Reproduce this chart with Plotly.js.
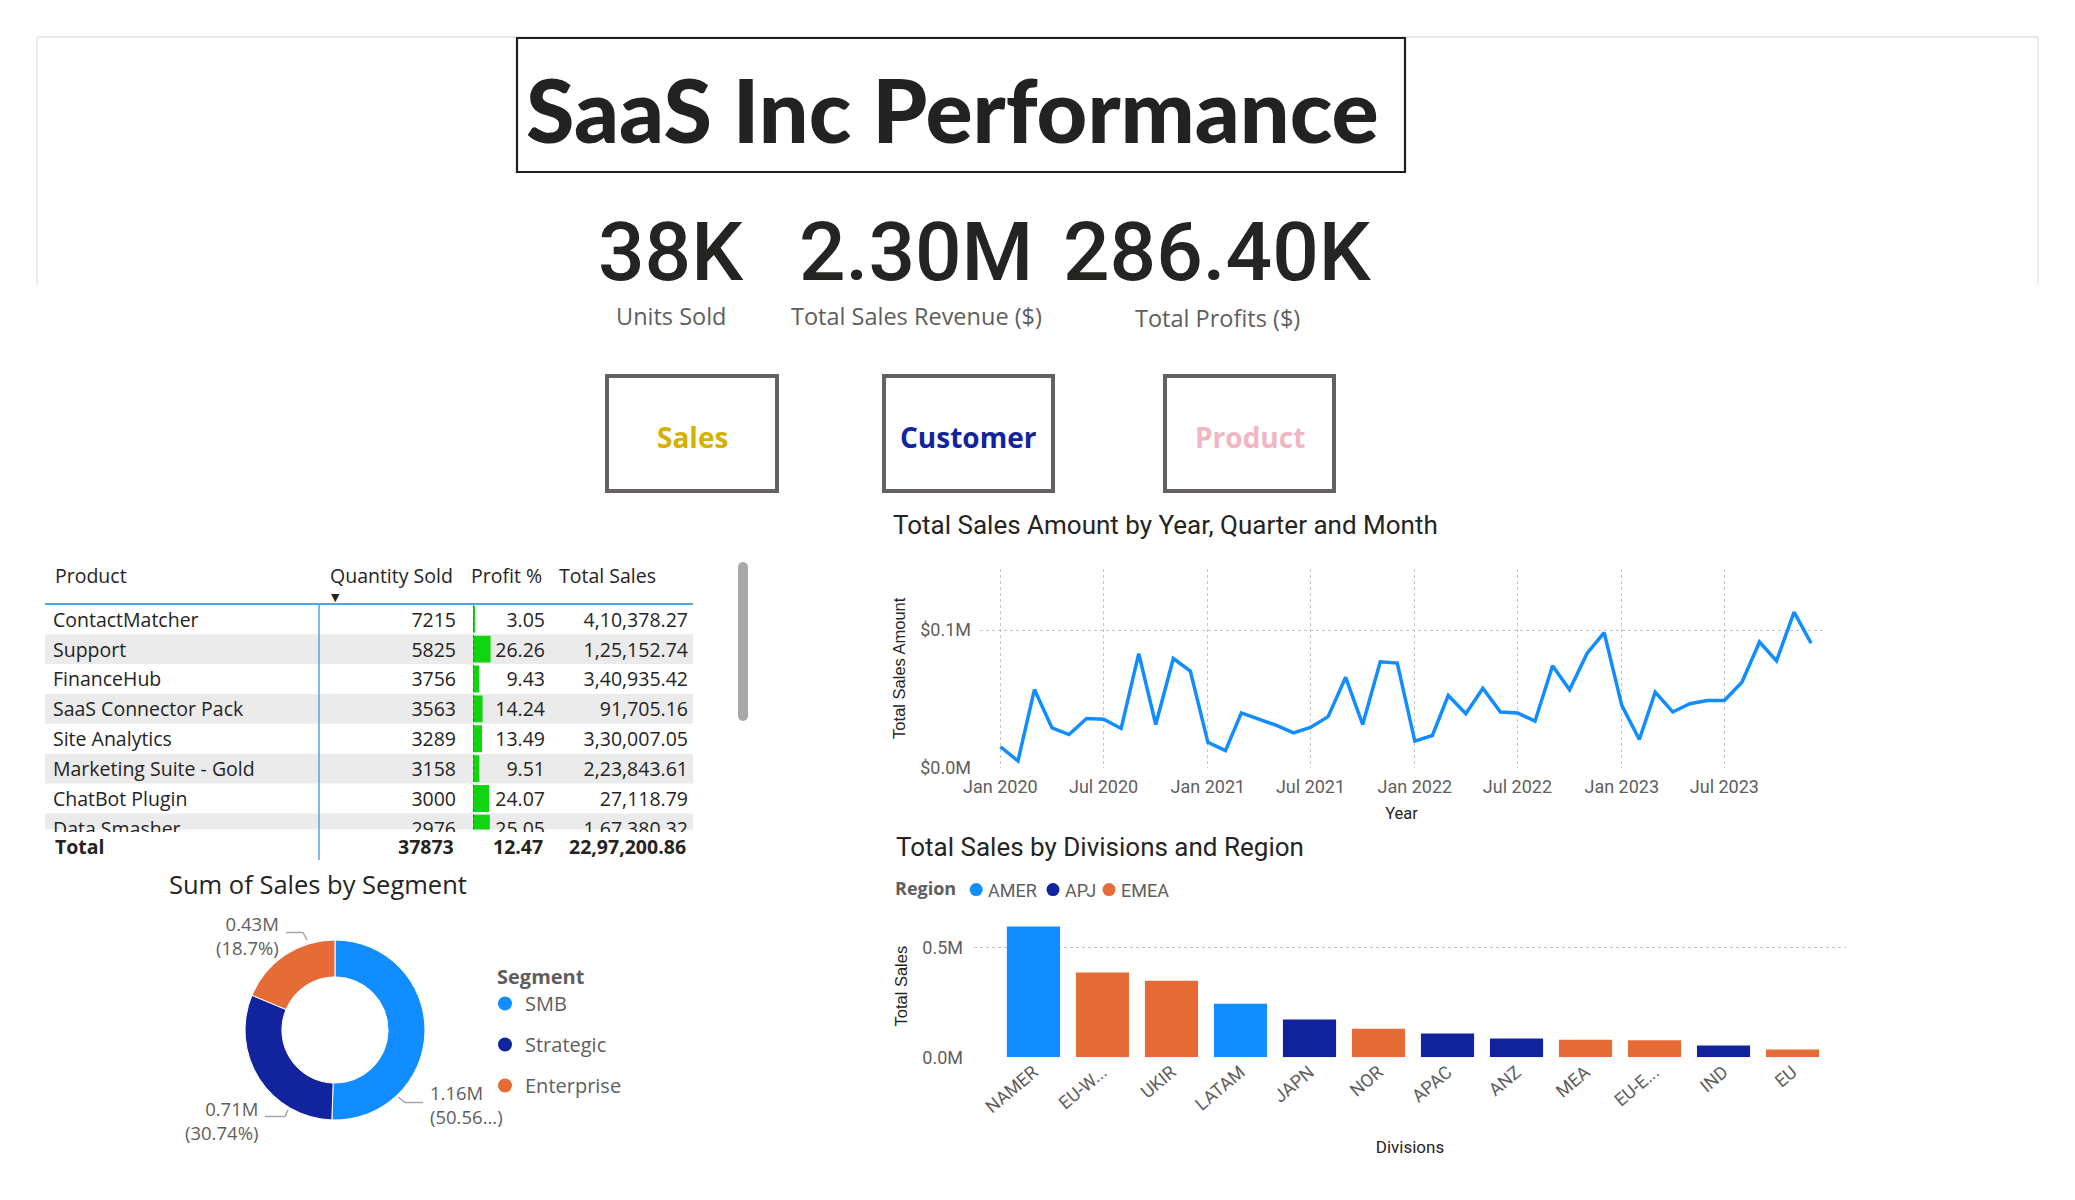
<!DOCTYPE html>
<html><head><meta charset="utf-8">
<script src="https://cdn.plot.ly/plotly-3.0.1.min.js"></script>
<style>html,body{margin:0;padding:0;background:#fff;}#chart{width:2075px;height:1200px;}</style>
</head><body><div id="chart"></div>
<script>
const W = 2075, H = 1200;
const px = x => x / W, py = y => 1 - y / H;

// ---------- DATA ----------
const reportTitle = 'SaaS Inc Performance';
const kpiValues = ['38K', '2.30M', '286.40K'];
const kpiLabels = ['Units Sold', 'Total Sales Revenue ($)', 'Total Profits ($)'];
const navButtons = ['Sales', 'Customer', 'Product'];

const tableHeaders = ['Product', 'Quantity Sold', 'Profit %', 'Total Sales'];
const products = ['ContactMatcher', 'Support', 'FinanceHub', 'SaaS Connector Pack', 'Site Analytics', 'Marketing Suite - Gold', 'ChatBot Plugin', 'Data Smasher'];
const quantitySold = [7215, 5825, 3756, 3563, 3289, 3158, 3000, 2976];
const profitPct = [3.05, 26.26, 9.43, 14.24, 13.49, 9.51, 24.07, 25.05];
const productSales = [410378.27, 125152.74, 340935.42, 91705.16, 330007.05, 223843.61, 27118.79, 167380.32];
const totalQuantity = 37873, totalProfitPct = 12.47, totalSalesAll = 2297200.86;

const months = ['2020-01-01','2020-02-01','2020-03-01','2020-04-01','2020-05-01','2020-06-01','2020-07-01','2020-08-01','2020-09-01','2020-10-01','2020-11-01','2020-12-01',
  '2021-01-01','2021-02-01','2021-03-01','2021-04-01','2021-05-01','2021-06-01','2021-07-01','2021-08-01','2021-09-01','2021-10-01','2021-11-01','2021-12-01',
  '2022-01-01','2022-02-01','2022-03-01','2022-04-01','2022-05-01','2022-06-01','2022-07-01','2022-08-01','2022-09-01','2022-10-01','2022-11-01','2022-12-01',
  '2023-01-01','2023-02-01','2023-03-01','2023-04-01','2023-05-01','2023-06-01','2023-07-01','2023-08-01','2023-09-01','2023-10-01','2023-11-01','2023-12-01'];
const monthlySales = [15100, 4800, 56700, 28800, 24000, 35600, 35100, 28400, 82900, 31300, 79300, 70200,
  18300, 12300, 39700, 35100, 30800, 25200, 29100, 37000, 65600, 31300, 76900, 76000,
  19200, 23300, 52400, 39200, 57700, 40400, 39700, 33700, 74000, 56500, 83200, 98100,
  45200, 20400, 54800, 40400, 46400, 48800, 48800, 62000, 91300, 77600, 113000, 90400];
const lineYTickVals = [0, 100000];
const lineYTickText = ['$0.0M', '$0.1M'];

const divisions = ['NAMER', 'EU-WEST', 'UKIR', 'LATAM', 'JAPN', 'NOR', 'APAC', 'ANZ', 'MEA', 'EU-EAST', 'IND', 'EU'];
const divisionSales = [596000, 386000, 349000, 244000, 172000, 130000, 108000, 86000, 80000, 78000, 54000, 36000];
const divisionRegion = ['AMER', 'EMEA', 'EMEA', 'AMER', 'APJ', 'EMEA', 'APJ', 'APJ', 'EMEA', 'EMEA', 'APJ', 'EMEA'];
const regions = ['AMER', 'APJ', 'EMEA'];
const barYTickVals = [0, 500000];
const barYTickText = ['0.0M', '0.5M'];

const segments = ['SMB', 'Strategic', 'Enterprise'];
const segmentSales = [1161465, 706159, 429577];

// ---------- STYLE ----------
const DIN = 'Roboto, "Liberation Sans", sans-serif';
const SEGOE = '"Open Sans", "Noto Sans", sans-serif';
const DARK = '#252423', GREY = '#605E5C';
const regionColors = ['#118DFF', '#12239E', '#E66C37'];
const segColors = ['#118DFF', '#12239E', '#E66C37'];
const buttonColors = ['#D6B000', '#12239E', '#F2B6C3'];

function fmtIN(v) {
  const parts = v.toFixed(2).split('.');
  const i = parts[0], d = parts[1];
  const last = i.slice(-3); let rest = i.slice(0, -3);
  if (rest) { rest = rest.replace(/\B(?=(\d{2})+(?!\d))/g, ','); return rest + ',' + last + '.' + d; }
  return last + '.' + d;
}

const traces = [];
// line chart
traces.push({type: 'scatter', mode: 'lines', x: months, y: monthlySales, xaxis: 'x', yaxis: 'y',
  line: {color: '#118DFF', width: 3.5}, showlegend: false, hoverinfo: 'skip'});

// bar chart + region legend symbols (one legend box per region, labels set beside them)
const regionLegendIds = ['legend', 'legend3', 'legend4'];
regions.forEach((r, k) => {
  const idx = divisions.map((d, i) => i).filter(i => divisionRegion[i] === r);
  traces.push({type: 'bar', x: idx.map(i => divisions[i]), y: idx.map(i => divisionSales[i]), xaxis: 'x2', yaxis: 'y2',
    marker: {color: regionColors[k]}, name: r, showlegend: false, hoverinfo: 'skip'});
});
regions.forEach((r, k) => {
  traces.push({type: 'scatter', mode: 'markers', x: [null], y: [null], xaxis: 'x3', yaxis: 'y3',
    marker: {color: regionColors[k], size: 13}, name: ' ', legend: regionLegendIds[k], showlegend: true});
});

// donut
const segTotal = segmentSales.reduce((a, b) => a + b, 0);
traces.push({type: 'pie', values: segmentSales, labels: segments, hole: 0.59, sort: false, direction: 'clockwise', rotation: 0,
  textinfo: 'none', marker: {colors: segColors, line: {color: '#fff', width: 1}},
  domain: {x: [px(245), px(425)], y: [py(1120), py(940)]}, showlegend: false, hoverinfo: 'skip'});
segments.forEach((s, k) => {
  traces.push({type: 'scatter', mode: 'markers', x: [null], y: [null], xaxis: 'x3', yaxis: 'y3',
    marker: {color: segColors[k], size: 14}, name: s, legend: 'legend2', legendgroup: 'seg' + k, showlegend: true});
});

// table text (on y5, same rows as y3, nudged for optical centring)
const rowIdx = products.map((p, i) => i);
const cellFont = {family: SEGOE, size: 19.5, color: DARK};
const textTrace = (xPos, txt, pos) => ({type: 'scatter', mode: 'text', x: products.map(() => xPos), y: rowIdx, text: txt,
  textposition: pos, textfont: cellFont, xaxis: 'x3', yaxis: 'y5', showlegend: false, hoverinfo: 'skip'});
traces.push(textTrace(53, products, 'middle right'));
traces.push(textTrace(456, quantitySold.map(String), 'middle left'));
traces.push(textTrace(545, profitPct.map(v => v.toFixed(2)), 'middle left'));
traces.push(textTrace(688, productSales.map(fmtIN), 'middle left'));
// data bars
traces.push({type: 'bar', orientation: 'h', x: profitPct, y: rowIdx, xaxis: 'x4', yaxis: 'y3', width: 0.9,
  marker: {color: '#0FD40F'}, showlegend: false, hoverinfo: 'skip'});

// ---------- LAYOUT ----------
const shapes = [];
const line = (x0, y0, x1, y1, color, width, dash) => shapes.push({type: 'line', xref: 'paper', yref: 'paper',
  x0: px(x0), y0: py(y0), x1: px(x1), y1: py(y1), line: {color: color, width: width, dash: dash || 'solid'}});
const rect = (x0, y0, x1, y1, lineColor, lw, fill) => shapes.push({type: 'rect', xref: 'paper', yref: 'paper',
  x0: px(x0), y0: py(y1), x1: px(x1), y1: py(y0), line: {color: lineColor, width: lw}, fillcolor: fill || 'rgba(0,0,0,0)'});

// page frame
line(37, 37, 2038, 37, '#D2D2D2', 1.2);
line(37, 37, 37, 285, '#E2E2E2', 1.2);
line(2038, 37, 2038, 285, '#E2E2E2', 1.2);
// title box
rect(517, 38, 1405, 172, '#1E1E1E', 2.2);
// buttons
const btnX = [[607, 777], [884, 1053], [1165, 1334]];
btnX.forEach(b => rect(b[0], 376, b[1], 491, '#646160', 4));

// table stripes
rowIdx.forEach(i => { if (i % 2 === 1) shapes.push({type: 'rect', xref: 'x3', yref: 'y3', x0: 45, x1: 693, y0: i - 0.5, y1: i + 0.5,
  line: {width: 0}, fillcolor: '#EBEBEB', layer: 'below'}); });
// table lines
line(45, 604, 693, 604, '#52A6E8', 2);
line(319, 604, 319, 860, '#52A6E8', 1.5);
shapes.push({type: 'line', xref: 'x4', yref: 'y3', x0: 0, x1: 0, y0: -0.5, y1: 7.5, line: {color: '#2F6F2F', width: 1.5, dash: 'dot'}});
// scrollbar
rect(738, 567, 748, 716, 'rgba(0,0,0,0)', 0, '#A8A8A8');
shapes.push({type: 'circle', xref: 'paper', yref: 'paper', x0: px(738), x1: px(748), y0: py(572), y1: py(562), line: {width: 0}, fillcolor: '#A8A8A8'});
shapes.push({type: 'circle', xref: 'paper', yref: 'paper', x0: px(738), x1: px(748), y0: py(721), y1: py(711), line: {width: 0}, fillcolor: '#A8A8A8'});

// donut leader lines
const poly = (pts) => shapes.push({type: 'path', xref: 'paper', yref: 'paper',
  path: 'M' + pts.map(p => px(p[0]) + ',' + py(p[1])).join(' L'), line: {color: '#A6A6A6', width: 1.5}});
poly([[307, 940], [303, 932.5], [286, 932.5]]);
poly([[288, 1110], [285, 1116.5], [265, 1116.5]]);
poly([[398, 1097], [405, 1102.5], [423, 1102.5]]);

const annotations = [];
const ann = (text, x, y, font, xanchor, extra) => annotations.push(Object.assign({text: text, x: px(x), y: py(y), xref: 'paper', yref: 'paper',
  xanchor: xanchor || 'center', yanchor: 'middle', showarrow: false, font: font}, extra || {}));

ann(reportTitle, 524, 109, {family: 'Lato, "Open Sans", sans-serif', size: 88, color: '#222', weight: 900}, 'left');
const kpiX = [671, 916, 1217];
kpiValues.forEach((v, i) => ann(v, kpiX[i], 252, {family: DIN, size: 82, color: DARK, weight: 500}));
kpiLabels.forEach((v, i) => ann(v, kpiX[i], i === 2 ? 318 : 316, {family: SEGOE, size: 23.5, color: GREY}));
navButtons.forEach((b, i) => ann(b, (btnX[i][0] + btnX[i][1]) / 2, 437, {family: SEGOE, size: 28, color: buttonColors[i], weight: 700}));

// table header + totals
const headerX = [53, 328, 469, 557];
tableHeaders.forEach((h, i) => ann(h, headerX[i], 575, {family: SEGOE, size: 19.5, color: DARK}, 'left'));
ann('▼', 335, 597, {family: 'DejaVu Sans, sans-serif', size: 11, color: DARK});
const totFont = {family: SEGOE, size: 19.5, color: DARK, weight: 700};
ann('Total', 53, 846, totFont, 'left');
ann(String(totalQuantity), 456, 846, totFont, 'right');
ann(totalProfitPct.toFixed(2), 545, 846, totFont, 'right');
ann(fmtIN(totalSalesAll), 688, 846, totFont, 'right');

// chart titles
ann('Total Sales Amount by Year, Quarter and Month', 891, 525, {family: DIN, size: 26, color: DARK}, 'left');
ann('Total Sales by Divisions and Region', 894, 847, {family: DIN, size: 26, color: DARK}, 'left');
ann('Sum of Sales by Segment', 318, 884, {family: SEGOE, size: 25.5, color: DARK});

// region legend labels beside the legend symbols
const regionLabelX = [986, 1063, 1119];
regions.forEach((r, k) => ann(r, regionLabelX[k], 890, {family: DIN, size: 18, color: GREY}, 'left'));

// donut data labels
const segLabel = (k, trunc) => {
  const v = (segmentSales[k] / 1e6).toFixed(2) + 'M';
  let p = (segmentSales[k] / segTotal * 100).toFixed(2).replace(/0+$/, '').replace(/\.$/, '');
  return v + '<br>(' + p + (trunc ? '...)' : '%)');
};
const dlFont = {family: SEGOE, size: 18.5, color: GREY};
ann(segLabel(2), 281, 935, dlFont, 'right', {align: 'right'});
ann(segLabel(0, true), 428, 1104, dlFont, 'left', {align: 'left'});
ann(segLabel(1), 260, 1120, dlFont, 'right', {align: 'right'});

const tickFont = {family: DIN, size: 18, color: GREY};
const regionLegendBase = {yanchor: 'middle', orientation: 'h', bgcolor: 'rgba(0,0,0,0)', font: {family: DIN, size: 17, color: GREY}, itemwidth: 30};
const layout = {
  width: W, height: H, margin: {l: 0, r: 0, t: 0, b: 0},
  paper_bgcolor: '#fff', plot_bgcolor: 'rgba(0,0,0,0)',
  barmode: 'relative', bargap: 0.23, hovermode: false,
  shapes: shapes, annotations: annotations,
  xaxis: {domain: [px(980), px(1823)], type: 'date', range: ['2019-11-26', '2023-12-22'], tick0: '2020-01-01', dtick: 'M6',
    tickformat: '%b %Y', showgrid: true, gridcolor: '#C8C6C4', griddash: 'dot', gridwidth: 1, zeroline: false, showline: false,
    ticks: '', tickfont: tickFont, ticklabelstandoff: 6, anchor: 'y',
    title: {text: 'Year', font: {family: DIN, size: 16.5, color: DARK}, standoff: 11}},
  yaxis: {domain: [py(767.5), py(569)], range: [0, 144400], tickvals: lineYTickVals, ticktext: lineYTickText,
    showgrid: true, gridcolor: '#C8C6C4', griddash: 'dot', zeroline: false, showline: false, ticks: '', tickfont: tickFont,
    ticklabelstandoff: 8, anchor: 'x',
    title: {text: 'Total Sales Amount', font: {family: '"Liberation Sans", Arial, sans-serif', size: 16.5, color: DARK}, standoff: 10}},
  xaxis2: {domain: [px(974), px(1846)], type: 'category', categoryorder: 'array', categoryarray: divisions, range: [-0.862, 11.775],
    tickvals: divisions, ticktext: divisions.map(d => d.length > 6 ? d.slice(0, 4) + '...' : d), tickangle: -40,
    showgrid: false, zeroline: false, showline: false, ticks: '', tickfont: tickFont, anchor: 'y2',
    title: {text: 'Divisions', font: {family: DIN, size: 17, color: DARK}, standoff: 25}},
  yaxis2: {domain: [py(1057.3), py(915)], range: [0, 648000], tickvals: barYTickVals, ticktext: barYTickText,
    showgrid: true, gridcolor: '#C8C6C4', griddash: 'dot', zeroline: false, showline: false, ticks: '', tickfont: tickFont,
    ticklabelstandoff: 10, anchor: 'x2',
    title: {text: 'Total Sales', font: {family: '"Liberation Sans", Arial, sans-serif', size: 16.5, color: DARK}, standoff: 10}},
  xaxis3: {domain: [px(45), px(700)], range: [45, 700], visible: false, anchor: 'y3', fixedrange: true},
  yaxis3: {domain: [py(829.5), py(604.4)], range: [7.04, -0.5], visible: false, anchor: 'x3', fixedrange: true},
  yaxis5: {domain: [py(832), py(606.9)], range: [7.04, -0.5], visible: false, anchor: 'x3', fixedrange: true},
  xaxis4: {domain: [px(473), px(544)], range: [0, 106], visible: false, anchor: 'y3', fixedrange: true},
  showlegend: true,
  legend: Object.assign({}, regionLegendBase, {x: px(893), y: py(890), xanchor: 'left', indentation: -8,
    title: {text: 'Region', font: {family: SEGOE, size: 18, color: GREY, weight: 700}}}),
  legend3: Object.assign({}, regionLegendBase, {x: px(1033), y: py(890), xanchor: 'left'}),
  legend4: Object.assign({}, regionLegendBase, {x: px(1089), y: py(890), xanchor: 'left'}),
  legend2: {x: px(495), y: py(958), xanchor: 'left', yanchor: 'top', orientation: 'v', bgcolor: 'rgba(0,0,0,0)', indentation: -10,
    title: {text: 'Segment', font: {family: SEGOE, size: 20, color: GREY, weight: 700}}, font: {family: SEGOE, size: 20, color: GREY},
    itemwidth: 30, tracegroupgap: 12, traceorder: 'grouped'}
};

Plotly.newPlot('chart', traces, layout, {staticPlot: true, displayModeBar: false});
</script>
</body></html>
